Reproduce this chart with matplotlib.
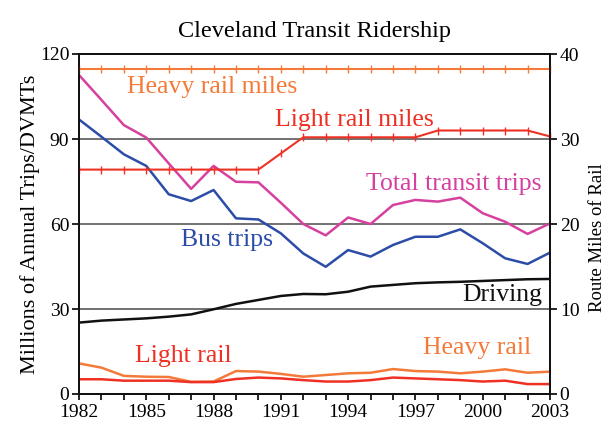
import matplotlib
matplotlib.use("Agg")
import matplotlib.pyplot as plt
from matplotlib.ticker import MultipleLocator

years = list(range(1982, 2004))
total_transit = [112.6, 103.8, 94.9, 90.5, 81.4, 72.4, 80.5, 74.9, 74.7, 67.5, 60.0,
                 56.0, 62.3, 60.0, 66.7, 68.5, 67.9, 69.3, 63.8, 60.8, 56.5, 60.2]
bus_trips = [96.9, 90.8, 84.6, 80.5, 70.5, 68.1, 72.0, 62.0, 61.6, 56.7, 49.6,
             44.9, 50.8, 48.5, 52.6, 55.5, 55.5, 58.1, 53.2, 47.9, 45.9, 49.9]
driving = [25.2, 25.9, 26.3, 26.7, 27.3, 28.1, 29.9, 31.8, 33.2, 34.6, 35.3,
           35.2, 36.1, 37.9, 38.5, 39.1, 39.4, 39.6, 39.9, 40.2, 40.5, 40.6]
light_rail = [5.2, 5.2, 4.7, 4.7, 4.7, 4.2, 4.2, 5.3, 5.8, 5.5, 4.9,
              4.4, 4.4, 4.9, 5.8, 5.5, 5.2, 4.9, 4.4, 4.7, 3.5, 3.5]
heavy_rail = [10.8, 9.3, 6.4, 6.1, 6.0, 4.3, 4.4, 8.1, 7.9, 7.1, 6.1,
              6.7, 7.3, 7.5, 8.8, 8.1, 7.9, 7.3, 7.9, 8.7, 7.5, 7.9]
heavy_rail_miles = [38.2] * 22
light_rail_miles = [26.4, 26.4, 26.4, 26.4, 26.4, 26.4, 26.4, 26.4, 26.4, 28.3, 30.2,
                    30.2, 30.2, 30.2, 30.2, 30.2, 31.0, 31.0, 31.0, 31.0, 31.0, 30.3]

x_ticks = [1982, 1985, 1988, 1991, 1994, 1997, 2000, 2003]
left_ticks = [0, 30, 60, 90, 120]
right_ticks = [0, 10, 20, 30, 40]

C_HEAVY = "#F47A3A"
C_LIGHT = "#EE3124"
C_TOTAL = "#D6409F"
C_BUS = "#2C4CA8"
C_DRIVE = "#111111"

SERIF = ["Liberation Serif", "DejaVu Serif"]
plt.rcParams["font.family"] = SERIF

fig = plt.figure(figsize=(6.09, 4.32), dpi=100)
ax = fig.add_axes([79/609, 1-394/432, 471/609, 340/432])
ax2 = ax.twinx()

ax.set_xlim(1982, 2003)
ax.set_ylim(0, 120)
ax2.set_ylim(0, 40)

ax.set_yticks(left_ticks)
ax.yaxis.grid(True, color="#666666", linewidth=1.3)
ax.set_axisbelow(True)
ax2.set_yticks(right_ticks)
ax.set_xticks(x_ticks)
ax.xaxis.set_minor_locator(MultipleLocator(1))

lw = 1.8
ax.plot(years, total_transit, color=C_TOTAL, lw=lw)
ax.plot(years, bus_trips, color=C_BUS, lw=lw)
ax.plot(years, driving, color=C_DRIVE, lw=lw)
ax.plot(years, heavy_rail, color=C_HEAVY, lw=lw)
ax.plot(years, light_rail, color=C_LIGHT, lw=lw)
ax2.plot(years, heavy_rail_miles, color=C_HEAVY, lw=1.5, marker="|", ms=6, mew=1.0, clip_on=False)
ax2.plot(years, light_rail_miles, color=C_LIGHT, lw=1.5, marker="|", ms=6, mew=1.0, clip_on=False)

for a in (ax, ax2):
    for s in a.spines.values():
        s.set_linewidth(1.3)
        s.set_color("#111111")

ax.tick_params(axis="y", direction="out", length=5, width=1.2, labelsize=14, pad=2)
ax2.tick_params(axis="y", direction="out", length=5, width=1.2, labelsize=14, pad=2)
ax.tick_params(axis="x", which="both", direction="out", length=4, width=1.2, labelsize=14, pad=3)

ax.set_title("Cleveland Transit Ridership", fontsize=17.5, pad=12)
ax.set_ylabel("Millions of Annual Trips/DVMTs", fontsize=16, labelpad=0)
ax2.set_ylabel("Route Miles of Rail", fontsize=13.5)
ax2.yaxis.set_label_coords(1.083, 0.46)

fs = 18.5
ax.text(1987.93, 108.4, "Heavy rail miles", color=C_HEAVY, fontsize=fs, ha="center", va="center")
ax.text(1994.3, 96.7, "Light rail miles", color=C_LIGHT, fontsize=fs, ha="center", va="center")
ax.text(1998.72, 74.1, "Total transit trips", color=C_TOTAL, fontsize=fs, ha="center", va="center")
ax.text(1988.6, 54.4, "Bus trips", color=C_BUS, fontsize=fs, ha="center", va="center")
ax.text(2000.86, 34.9, "Driving", color=C_DRIVE, fontsize=fs, ha="center", va="center")
ax.text(1986.64, 13.4, "Light rail", color=C_LIGHT, fontsize=fs, ha="center", va="center")
ax.text(1999.74, 16.2, "Heavy rail", color=C_HEAVY, fontsize=fs, ha="center", va="center")

fig.savefig("out.png", dpi=100)
